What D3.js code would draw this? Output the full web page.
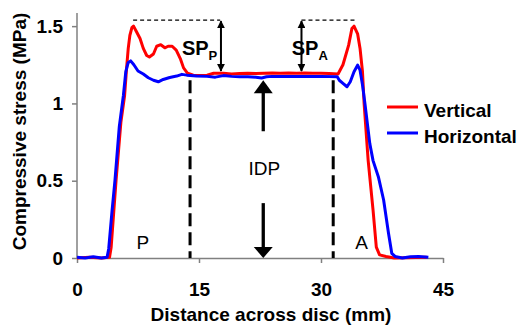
<!DOCTYPE html>
<html>
<head>
<meta charset="utf-8">
<script src="https://cdn.jsdelivr.net/npm/d3@7"></script>
<style>
  body { margin: 0; background: #fff; }
  svg text { font-family: Arial, "Liberation Sans", sans-serif; fill: #000; }
</style>
</head>
<body>
<div id="chart"></div>
<script>
// distance across disc (mm), compressive stress (MPa)
const vertical = [
  [0, 0], [1.5, 0.005], [3, 0], [4.0, 0.005], [4.2, 0.07], [4.8, 0.5], [5.4, 0.88],
  [5.85, 1.05], [6.1, 1.23], [6.3, 1.356], [6.5, 1.44], [6.75, 1.49], [6.95, 1.5],
  [7.3, 1.465], [7.75, 1.42], [8.15, 1.356], [8.57, 1.31], [8.9, 1.30], [9.4, 1.32],
  [9.8, 1.37], [10.3, 1.38], [10.8, 1.36], [11.2, 1.37], [11.7, 1.37], [12.2, 1.345],
  [12.7, 1.29], [13.1, 1.23], [13.6, 1.195], [14.3, 1.183], [15, 1.18], [16, 1.182],
  [16.8, 1.195], [18, 1.195], [19, 1.19], [20, 1.193], [21, 1.195], [22, 1.193],
  [23, 1.195], [24, 1.197], [25, 1.195], [26, 1.197], [27, 1.195], [28, 1.197],
  [29, 1.195], [30, 1.195], [31, 1.193], [32.1, 1.19], [32.7, 1.25], [33.4, 1.377],
  [33.8, 1.485], [34.06, 1.5], [34.5, 1.45], [34.8, 1.356], [35.1, 1.205], [35.3, 1.0],
  [35.8, 0.63], [36.4, 0.31], [36.8, 0.07], [37.2, 0.02], [38, 0.01], [39, 0], [43, 0.005]
];
const horizontal = [
  [0, 0.005], [1, 0], [2, 0.008], [3, 0], [3.7, 0.005], [3.9, 0.06], [4.3, 0.3],
  [4.67, 0.504], [5.2, 0.85], [5.7, 1.05], [6.0, 1.205], [6.3, 1.265], [6.6, 1.275],
  [6.99, 1.25], [7.5, 1.21], [8.15, 1.19], [8.77, 1.166], [9.4, 1.15], [10.0, 1.14],
  [10.6, 1.155], [11.4, 1.168], [12.26, 1.177], [12.9, 1.188], [13.5, 1.183],
  [14.7, 1.177], [16, 1.175], [17, 1.17], [18, 1.18], [19, 1.175], [20, 1.172],
  [21, 1.172], [22, 1.17], [22.7, 1.165], [23.3, 1.172], [24, 1.175], [26, 1.175],
  [28, 1.175], [30, 1.175], [32.0, 1.172], [32.25, 1.15], [32.7, 1.13], [33.2, 1.108],
  [33.6, 1.14], [34.06, 1.205], [34.5, 1.248], [34.8, 1.215], [35.1, 1.12], [35.4, 1.0],
  [36.0, 0.74], [36.4, 0.63], [37.05, 0.526], [37.7, 0.375], [38.3, 0.16], [38.7, 0.03],
  [39.1, 0.01], [40, 0], [41, 0.008], [42, 0.01], [43.2, 0.005]
];
const xTicks = [0, 15, 30, 45];
const yTicks = [0, 0.5, 1, 1.5];
const yTickLabels = ["0", "0.5", "1", "1.5"];
const seriesNames = ["Vertical", "Horizontal"];
const seriesColors = ["#ff0000", "#0000ff"];

// annotation positions in data units
const regionBounds = [13.9, 31.5];   // dashed lines between P, IDP and A
const peakLevel = 1.539;
const plateauLevel = 1.203;
const spLeft = { x: 17.7, from: 6.9, to: 17.6 };
const spRight = { x: 27.6, from: 27.6, to: 34.4 };
const idpX = 22.9;

const W = 521, H = 326;
const margin = { top: 13, right: 78, bottom: 68, left: 77 };
const width = W - margin.left - margin.right;
const height = H - margin.top - margin.bottom;

const svg = d3.select('#chart').append('svg')
  .attr('width', W)
  .attr('height', H);

const defs = svg.append('defs');
const g = svg.append('g')
  .attr('transform', `translate(${margin.left},${margin.top})`);

const x = d3.scaleLinear().domain([0, 45]).range([0, width]);
const y = d3.scaleLinear().domain([0, 1.585]).range([height, 0]);

// axes
const xAxis = g.append('g')
  .attr('transform', `translate(0,${height})`)
  .call(d3.axisBottom(x).tickValues(xTicks).tickSize(5).tickPadding(20).tickSizeOuter(0));
const yAxis = g.append('g')
  .call(d3.axisLeft(y).tickValues(yTicks).tickFormat((d, i) => yTickLabels[i]).tickSize(5).tickPadding(9).tickSizeOuter(0));

[xAxis, yAxis].forEach(a => {
  a.select('.domain').attr('stroke', '#808080').attr('stroke-width', 1.5);
  a.selectAll('.tick line').attr('stroke', '#808080').attr('stroke-width', 1.5);
  a.selectAll('.tick text')
    .attr('fill', '#000')
    .style('font-size', '19px')
    .style('font-weight', 'bold')
    .style('font-family', 'Arial, "Liberation Sans", sans-serif');
});
// y axis line goes all the way to the top of the plot
yAxis.select('.domain').attr('d', `M0,${height}V0`);

g.append('text')
  .attr('x', width / 2 + 11)
  .attr('y', height + 63)
  .attr('text-anchor', 'middle')
  .style('font-size', '19px')
  .style('font-weight', 'bold')
  .text('Distance across disc (mm)');

g.append('text')
  .attr('transform', `translate(${-51},${height / 2 - 4}) rotate(-90)`)
  .attr('text-anchor', 'middle')
  .style('font-size', '19px')
  .style('font-weight', 'bold')
  .text('Compressive stress (MPa)');

// lines
const line = d3.line()
  .x(d => x(d[0]))
  .y(d => y(d[1]));

[vertical, horizontal].forEach((data, i) => {
  g.append('path')
    .datum(data)
    .attr('fill', 'none')
    .attr('stroke', seriesColors[i])
    .attr('stroke-width', 3)
    .attr('stroke-linejoin', 'round')
    .attr('d', line);
});

// dashed region bounds
g.selectAll('.bound')
  .data(regionBounds)
  .enter().append('line')
  .attr('x1', d => x(d)).attr('x2', d => x(d))
  .attr('y1', y(1.15)).attr('y2', y(0))
  .attr('stroke', '#000')
  .attr('stroke-width', 3)
  .attr('stroke-dasharray', '13,6');

// peak level dotted lines
[spLeft, spRight].forEach(s => {
  g.append('line')
    .attr('x1', x(s.from)).attr('x2', x(s.to))
    .attr('y1', y(peakLevel)).attr('y2', y(peakLevel))
    .attr('stroke', '#000')
    .attr('stroke-width', 1.3)
    .attr('stroke-dasharray', '4,3');
});

// double-headed arrows for SP
defs.append('marker')
  .attr('id', 'head')
  .attr('viewBox', '0 0 10 10')
  .attr('refX', 9).attr('refY', 5)
  .attr('markerWidth', 4).attr('markerHeight', 4)
  .attr('orient', 'auto-start-reverse')
  .append('path')
  .attr('d', 'M0,0L10,5L0,10Z')
  .attr('fill', '#000');

[spLeft, spRight].forEach(s => {
  g.append('line')
    .attr('x1', x(s.x)).attr('x2', x(s.x))
    .attr('y1', y(peakLevel) + 1).attr('y2', y(plateauLevel) - 1)
    .attr('stroke', '#000')
    .attr('stroke-width', 2)
    .attr('marker-start', 'url(#head)')
    .attr('marker-end', 'url(#head)');
});

// SP labels
function spLabel(xPos, sub) {
  const t = g.append('text')
    .attr('x', xPos)
    .attr('y', 55 - margin.top)
    .style('font-size', '20px')
    .style('font-weight', 'bold');
  t.append('tspan').text('SP');
  t.append('tspan').attr('dy', 5).style('font-size', '13px').text(sub);
}
spLabel(x(12.9), 'P');
spLabel(x(26.4), 'A');

// IDP arrows
const idp = x(idpX);
g.append('line')
  .attr('x1', idp).attr('x2', idp)
  .attr('y1', y(0.82)).attr('y2', y(1.15) + 12)
  .attr('stroke', '#000').attr('stroke-width', 3.3);
g.append('path')
  .attr('d', `M${idp},${y(1.15)}L${idp + 9.5},${y(1.15) + 13}L${idp - 9.5},${y(1.15) + 13}Z`)
  .attr('fill', '#000');
g.append('line')
  .attr('x1', idp).attr('x2', idp)
  .attr('y1', y(0.355)).attr('y2', y(0) - 10)
  .attr('stroke', '#000').attr('stroke-width', 3.3);
g.append('path')
  .attr('d', `M${idp},${y(0)}L${idp + 9.5},${y(0) - 11}L${idp - 9.5},${y(0) - 11}Z`)
  .attr('fill', '#000');

g.append('text')
  .attr('x', idp + 1)
  .attr('y', 175 - margin.top)
  .attr('text-anchor', 'middle')
  .style('font-size', '19px')
  .text('IDP');

// region labels
g.append('text').attr('x', x(8.1)).attr('y', 249 - margin.top)
  .attr('text-anchor', 'middle').style('font-size', '19px').text('P');
g.append('text').attr('x', x(35.0)).attr('y', 249 - margin.top)
  .attr('text-anchor', 'middle').style('font-size', '19px').text('A');

// legend
const legend = svg.append('g').attr('transform', 'translate(387,107)');
seriesNames.forEach((name, i) => {
  const row = legend.append('g').attr('transform', `translate(0,${i * 26})`);
  row.append('line')
    .attr('x1', 0).attr('x2', 31)
    .attr('stroke', seriesColors[i])
    .attr('stroke-width', 3);
  row.append('text')
    .attr('x', 37).attr('y', 9.5)
    .style('font-size', '19px')
    .style('font-weight', 'bold')
    .text(name);
});
</script>
</body>
</html>
